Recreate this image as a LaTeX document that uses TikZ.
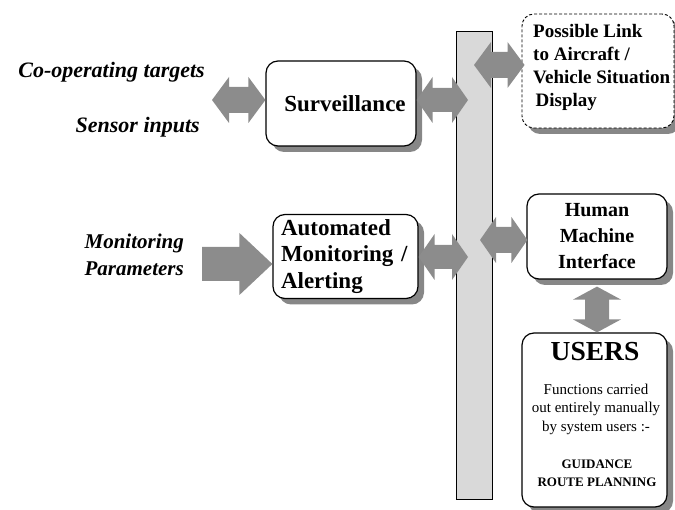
\documentclass[tikz,border=0pt]{standalone}
\usepackage{fontspec}
\setmainfont{Liberation Serif}
\usetikzlibrary{shadows,calc}
\definecolor{arrowgray}{RGB}{140,140,140}
\definecolor{shadowgray}{RGB}{135,135,135}
\definecolor{barfill}{RGB}{217,217,217}

% horizontal double block arrow: left tip, right tip, head length, head half width, shaft half width
\newcommand\blkH[5]{\fill[arrowgray] (#1) -- ([xshift=#3,yshift=#4]#1) -- ([xshift=#3,yshift=#5]#1) -- ([xshift=-#3,yshift=#5]#2) -- ([xshift=-#3,yshift=#4]#2) -- (#2) -- ([xshift=-#3,yshift=-#4]#2) -- ([xshift=-#3,yshift=-#5]#2) -- ([xshift=#3,yshift=-#5]#1) -- ([xshift=#3,yshift=-#4]#1) -- cycle;}
% vertical double block arrow: top tip, bottom tip
\newcommand\blkV[5]{\fill[arrowgray] (#1) -- ([yshift=-#3,xshift=#4]#1) -- ([yshift=-#3,xshift=#5]#1) -- ([yshift=#3,xshift=#5]#2) -- ([yshift=#3,xshift=#4]#2) -- (#2) -- ([yshift=#3,xshift=-#4]#2) -- ([yshift=#3,xshift=-#5]#2) -- ([yshift=-#3,xshift=-#5]#1) -- ([yshift=-#3,xshift=-#4]#1) -- cycle;}
% single block arrow: tail, tip
\newcommand\blkS[5]{\fill[arrowgray] ([yshift=#5]#1) -- ([xshift=-#3,yshift=#5]#2) -- ([xshift=-#3,yshift=#4]#2) -- (#2) -- ([xshift=-#3,yshift=-#4]#2) -- ([xshift=-#3,yshift=-#5]#2) -- ([yshift=-#5]#1) -- cycle;}

\tikzset{
  box/.style={draw=black, line width=1.2pt, rounded corners=12pt, fill=white,
    inner sep=0pt,
    drop shadow={shadow xshift=6pt, shadow yshift=-6pt, fill=shadowgray, opacity=1}},
  dbox/.style={box, dashed, dash pattern=on 3pt off 2pt, line width=0.9pt},
  barstyle/.style={draw=black, line width=1pt, fill=barfill, inner sep=0pt,
    minimum width=36pt, minimum height=467pt},
  lefttext/.style={inner sep=0pt, font=\fontsize{22}{26}\selectfont\bfseries\itshape},
}

\begin{document}
\begin{tikzpicture}[x=1pt,y=-1pt]
\useasboundingbox (0,0) rectangle (675,510);

% boxes
\node[box, minimum width=150pt, minimum height=85pt,
      font=\fontsize{23}{26}\selectfont\bfseries] (surv) at (341,103.5) {\hspace*{8pt}Surveillance};
\node[box, minimum width=145pt, minimum height=84pt, inner xsep=8pt,
      text width=129pt, align=left,
      font=\fontsize{23}{26.3}\selectfont\bfseries] (auto) at (345.5,256.5)
      {Automated\\Monitoring /\\Alerting};
\node[box, minimum width=140pt, minimum height=85pt, align=center,
      font=\fontsize{20}{26}\selectfont\bfseries] (hmi) at (597,236.5)
      {Human\\Machine\\Interface};
\node[dbox, minimum width=152pt, minimum height=114pt] (link) at (598,71) {};
\node[inner sep=0pt, anchor=north west, align=left,
      font=\fontsize{19}{23}\selectfont\bfseries] (linktext) at (533,24.5)
      {Possible Link\\to Aircraft /\\Vehicle Situation\\\hspace*{2.5pt}Display};
\node[box, minimum width=145pt, minimum height=174pt] (users) at (594.5,420) {};
\node[inner sep=0pt, anchor=base, font=\fontsize{27.5}{30}\selectfont\bfseries]
      (userstitle) at (595,361) {USERS};
\node[inner sep=0pt, anchor=north, align=center, font=\fontsize{15}{18.5}\selectfont]
      (usersfun) at (596,383.5) {Functions carried\\out entirely manually\\by system users :-};
\node[inner sep=0pt, anchor=north, align=center, font=\fontsize{13}{18}\selectfont\bfseries]
      (usersact) at (597,459.5) {GUIDANCE\\ROUTE PLANNING};

% the bus bar
\node[barstyle] (bar) at (474,265.5) {};

% left texts
\node[lefttext, anchor=base east] (coop) at (205,78) {Co-operating targets};
\node[lefttext, anchor=base east] (sensor) at (200,133) {Sensor inputs};
\node[lefttext, anchor=north east, align=right, font=\fontsize{21}{27}\selectfont\bfseries\itshape]
      (monit) at (184,234) {Monitoring\\Parameters};

% block arrows
\coordinate (a1L) at (212,100);
\coordinate (a1R) at (surv.west |- a1L);
\blkH{a1L}{a1R}{17pt}{23pt}{13pt}

\coordinate (a2R) at (468,100);
\coordinate (a2L) at (surv.east |- a2R);
\blkH{a2L}{a2R}{16pt}{23pt}{12pt}

\coordinate (a3L) at (474,65);
\coordinate (a3R) at ([xshift=3pt]link.west |- a3L);
\blkH{a3L}{a3R}{17pt}{23pt}{13pt}

\coordinate (a4R) at (468,257);
\coordinate (a4L) at (auto.east |- a4R);
\blkH{a4L}{a4R}{16pt}{23pt}{12pt}

\coordinate (a5L) at (480,240);
\coordinate (a5R) at ([xshift=1pt]hmi.west |- a5L);
\blkH{a5L}{a5R}{16pt}{23pt}{13pt}

\coordinate (a6T) at ([yshift=-7pt]hmi.south);
\coordinate (a6B) at (a6T |- users.north);
\blkV{a6T}{a6B}{13pt}{24pt}{12pt}

\coordinate (a7L) at (202,264);
\coordinate (a7R) at (auto.west |- a7L);
\blkS{a7L}{a7R}{33pt}{31pt}{17pt}
\end{tikzpicture}
\end{document}
